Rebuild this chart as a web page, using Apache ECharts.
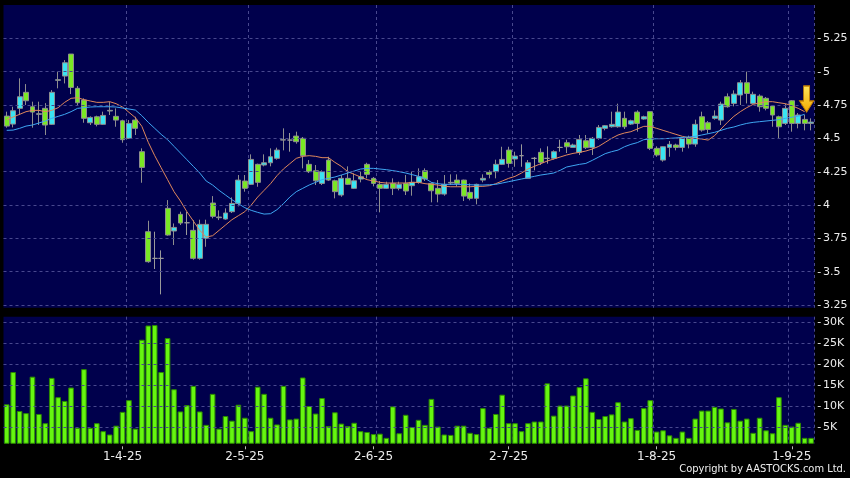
<!DOCTYPE html>
<html>
<head>
<meta charset="utf-8">
<script src="https://cdn.jsdelivr.net/npm/echarts@6.0.0/dist/echarts.min.js"></script>
<style>
html,body{margin:0;padding:0;background:#000;}
#chart{width:850px;height:478px;}
</style>
</head>
<body>
<div id="chart"></div>
<script>
// ---- data ----
// [open, close, low, high]
const ohlc = [
[4.667,4.592,4.58,4.70],[4.607,4.707,4.582,4.737],[4.725,4.812,4.675,4.95],[4.845,4.782,4.75,4.907],
[4.737,4.697,4.58,4.775],[4.68,4.685,4.60,4.775],[4.725,4.60,4.525,4.764],[4.605,4.845,4.60,4.862],
[4.935,4.94,4.875,5.0],[4.967,5.067,4.912,5.087],[5.132,4.882,4.832,5.132],[4.875,4.767,4.75,4.892],
[4.787,4.65,4.617,4.80],[4.617,4.657,4.60,4.665],[4.662,4.605,4.59,4.67],[4.605,4.672,4.60,4.70],
[4.705,4.71,4.675,4.775],[4.665,4.637,4.587,4.725],[4.632,4.49,4.467,4.64],[4.50,4.612,4.495,4.637],
[4.637,4.575,4.525,4.662],[4.40,4.282,4.167,4.425],[3.80,3.575,3.567,3.882],[3.60,3.60,3.52,3.80],
[3.60,3.60,3.33,3.66],[3.975,3.775,3.77,4.037],[3.805,3.832,3.70,3.862],[3.93,3.865,3.85,3.95],
[3.867,3.867,3.775,3.95],[3.81,3.60,3.59,3.887],[3.60,3.855,3.59,3.89],[3.75,3.855,3.687,3.89],
[4.015,3.915,3.90,4.067],[3.905,3.91,3.887,3.96],[3.895,3.94,3.89,3.975],[3.95,4.012,3.94,4.057],
[4.012,4.187,3.99,4.225],[4.18,4.125,4.10,4.225],[4.155,4.342,4.15,4.38],[4.305,4.17,4.137,4.31],
[4.30,4.317,4.29,4.38],[4.317,4.362,4.29,4.425],[4.35,4.412,4.34,4.43],[4.487,4.49,4.41,4.575],
[4.487,4.487,4.40,4.54],[4.517,4.475,4.46,4.55],[4.50,4.37,4.275,4.51],[4.305,4.25,4.24,4.337],
[4.257,4.182,4.15,4.30],[4.162,4.25,4.15,4.26],[4.337,4.187,4.18,4.362],[4.182,4.10,4.05,4.19],
[4.075,4.20,4.062,4.225],[4.20,4.155,4.15,4.29],[4.125,4.182,4.12,4.237],[4.195,4.212,4.17,4.25],
[4.305,4.23,4.20,4.317],[4.20,4.162,4.14,4.21],[4.155,4.125,3.945,4.18],[4.125,4.155,4.12,4.175],
[4.162,4.125,4.075,4.20],[4.125,4.155,4.11,4.175],[4.162,4.105,4.075,4.225],[4.145,4.17,4.07,4.25],
[4.17,4.212,4.16,4.275],[4.257,4.195,4.18,4.275],[4.162,4.107,4.02,4.17],[4.125,4.082,4.02,4.187],
[4.082,4.155,4.07,4.225],[4.165,4.17,4.15,4.23],[4.187,4.162,4.14,4.23],[4.187,4.067,4.03,4.19],
[4.095,4.05,4.035,4.162],[4.05,4.155,4.005,4.16],[4.187,4.20,4.17,4.23],[4.245,4.23,4.20,4.26],
[4.25,4.305,4.20,4.34],[4.305,4.342,4.30,4.437],[4.412,4.312,4.28,4.437],[4.345,4.367,4.287,4.40],
[4.37,4.37,4.287,4.455],[4.20,4.317,4.20,4.337],[4.35,4.35,4.26,4.36],[4.395,4.32,4.30,4.425],
[4.35,4.35,4.31,4.44],[4.35,4.40,4.34,4.41],[4.432,4.432,4.40,4.49],[4.467,4.437,4.39,4.49],
[4.432,4.45,4.43,4.46],[4.395,4.492,4.375,4.525],[4.482,4.43,4.42,4.525],[4.432,4.50,4.375,4.51],
[4.50,4.582,4.49,4.60],[4.575,4.595,4.56,4.60],[4.587,4.605,4.58,4.70],[4.587,4.697,4.58,4.76],
[4.65,4.587,4.57,4.70],[4.607,4.632,4.60,4.64],[4.697,4.612,4.55,4.71],[4.645,4.662,4.64,4.67],
[4.70,4.425,4.412,4.70],[4.425,4.375,4.362,4.44],[4.337,4.437,4.325,4.44],[4.432,4.455,4.362,4.48],
[4.45,4.432,4.41,4.46],[4.432,4.50,4.40,4.51],[4.505,4.457,4.425,4.52],[4.457,4.605,4.437,4.64],
[4.662,4.562,4.55,4.70],[4.617,4.567,4.537,4.63],[4.65,4.667,4.64,4.71],[4.637,4.757,4.60,4.775],
[4.812,4.737,4.73,4.837],[4.762,4.832,4.74,4.86],[4.825,4.917,4.75,4.937],[4.917,4.837,4.762,5.0],
[4.762,4.83,4.76,4.85],[4.817,4.737,4.70,4.83],[4.80,4.725,4.71,4.81],[4.742,4.675,4.587,4.75],
[4.662,4.587,4.50,4.67],[4.612,4.725,4.60,4.76],[4.782,4.612,4.55,4.787],[4.612,4.675,4.575,4.69],
[4.642,4.612,4.56,4.675],[4.612,4.622,4.56,4.65]
];

// volume, thousands of shares
const volumeK = [
10.4,18.1,8.8,8.3,17.0,8.1,5.9,16.7,12.1,11.2,
14.4,4.8,18.8,4.8,5.9,4.0,3.2,5.3,8.6,11.4,
4.6,25.8,29.2,29.3,18.1,26.2,14.0,8.7,10.2,14.8,
8.7,5.5,12.9,4.6,7.6,6.5,10.3,7.2,4.0,14.6,
12.9,7.2,5.6,14.8,6.8,7.0,16.8,10.0,8.2,11.9,
5.2,8.5,5.8,5.2,6.0,4.0,3.8,3.3,3.4,2.4,
9.9,3.5,7.9,5.0,6.7,5.5,11.7,5.1,3.2,3.1,
5.3,5.3,3.6,3.3,9.5,4.8,8.1,12.7,5.9,5.9,
4.0,5.9,6.3,6.3,15.4,7.7,10.1,10.1,12.5,14.5,
16.6,8.6,6.9,7.6,8.0,10.9,6.3,7.1,4.3,9.5,
11.4,3.9,4.2,3.0,2.4,3.9,2.4,7.0,8.9,8.9,
9.8,9.4,6.1,9.3,6.5,7.0,3.6,7.2,4.2,3.5,
12.1,5.5,5.1,6.0,2.4,2.4
];

// short moving average (orange)
const maShort = [
4.64,4.66,4.68,4.70,4.71,4.71,4.70,4.71,4.73,4.77,
4.80,4.805,4.79,4.78,4.77,4.77,4.775,4.76,4.735,4.695,
4.655,4.59,4.47,4.37,4.28,4.19,4.10,4.03,3.95,3.88,
3.81,3.76,3.77,3.81,3.85,3.89,3.92,3.95,4.00,4.06,
4.11,4.16,4.22,4.27,4.31,4.35,4.365,4.37,4.365,4.355,
4.355,4.32,4.29,4.25,4.23,4.21,4.19,4.18,4.17,4.165,
4.165,4.165,4.165,4.17,4.17,4.16,4.155,4.15,4.14,4.137,
4.137,4.137,4.137,4.14,4.14,4.145,4.16,4.18,4.20,4.215,
4.24,4.27,4.29,4.31,4.33,4.345,4.36,4.375,4.387,4.395,
4.405,4.42,4.44,4.47,4.50,4.525,4.54,4.55,4.57,4.59,
4.59,4.575,4.56,4.545,4.53,4.515,4.505,4.50,4.495,4.487,
4.52,4.57,4.62,4.665,4.70,4.73,4.755,4.765,4.775,4.775,
4.767,4.76,4.745,4.725,4.70
];

// long moving average (blue)
const maLong = [
4.56,4.562,4.575,4.592,4.60,4.615,4.63,4.65,4.665,4.68,
4.70,4.725,4.73,4.735,4.737,4.737,4.737,4.735,4.727,4.72,
4.712,4.67,4.62,4.575,4.53,4.49,4.44,4.39,4.34,4.29,
4.24,4.18,4.15,4.11,4.075,4.04,4.01,3.98,3.96,3.945,
3.932,3.935,3.965,4.01,4.06,4.10,4.125,4.15,4.17,4.19,
4.20,4.21,4.225,4.24,4.255,4.27,4.275,4.275,4.27,4.265,
4.258,4.25,4.24,4.228,4.215,4.20,4.17,4.16,4.155,4.155,
4.155,4.155,4.152,4.15,4.15,4.152,4.155,4.165,4.175,4.185,
4.195,4.205,4.215,4.225,4.232,4.24,4.26,4.285,4.295,4.305,
4.312,4.335,4.36,4.385,4.40,4.412,4.437,4.455,4.468,4.49,
4.495,4.497,4.497,4.50,4.503,4.507,4.51,4.515,4.525,4.535,
4.545,4.56,4.575,4.585,4.60,4.612,4.62,4.625,4.63,4.635,
4.64,4.65,4.658,4.667,4.68
];

// x-axis tick labels and the bar each one sits on
const xTickIndex  = [18, 37, 57, 78, 101, 122];
const xTickLabels = ['1-4-25', '2-5-25', '2-6-25', '2-7-25', '1-8-25', '1-9-25'];
const xGridIndex  = [19, 38, 58, 79, 101, 122];

// y-axis tick labels
const priceTicks  = [3.25, 3.5, 3.75, 4, 4.25, 4.5, 4.75, 5, 5.25];
const volumeTicks = [5, 10, 15, 20, 25, 30];

// arrow marker (bar index, price at its centre)
const arrowMark = { index: 124, price: 4.795 };

// ---- chart ----
const xCats = ohlc.map((_, i) => String(i));
const NAVY = '#00004c';
const GRIDC = '#48488e';
const LBL = '#ececec';
const DASH = [3, 3];

const near = (arr, v) => arr.some(t => Math.abs(t - v) < 1e-6);
const priceLabel = v => near(priceTicks, v) ? '-\u2006' + (+v.toFixed(2)) : '';
const volLabel = v => near(volumeTicks, v) ? '-\u2006' + Math.round(v) + 'K' : '';

const chart = echarts.init(document.getElementById('chart'), null, { renderer: 'canvas' });

const gridLineMark = vals => ({
  silent: true,
  symbol: ['none', 'none'],
  label: { show: false },
  emphasis: { disabled: true },
  lineStyle: { color: GRIDC, type: DASH, width: 1 },
  data: vals.map(v => ({ yAxis: v }))
});

const option = {
  animation: false,
  backgroundColor: '#000000',
  textStyle: { fontFamily: 'DejaVu Sans' },
  grid: [
    { left: 3.5, right: 35.7, top: 5, height: 302.7, show: true, backgroundColor: NAVY, borderWidth: 0, containLabel: false, outerBoundsMode: 'none' },
    { left: 3.5, right: 35.7, top: 316.7, height: 126.6, show: true, backgroundColor: NAVY, borderWidth: 0, containLabel: false, outerBoundsMode: 'none' }
  ],
  xAxis: [
    {
      type: 'category', gridIndex: 0, data: xCats, boundaryGap: true,
      axisLine: { show: false }, axisTick: { show: false }, axisLabel: { show: false },
      splitLine: { show: true, interval: i => xGridIndex.includes(i), lineStyle: { color: GRIDC, type: DASH, width: 1 } }
    },
    {
      type: 'category', gridIndex: 1, data: xCats, boundaryGap: true, offset: 3,
      axisLine: { show: false },
      axisTick: { show: true, alignWithLabel: true, length: 3, interval: i => xTickIndex.includes(i), lineStyle: { color: '#bbbbbb' } },
      axisLabel: {
        show: true, interval: i => xTickIndex.includes(i),
        formatter: (v, i) => { const k = xTickIndex.indexOf(i); return k >= 0 ? xTickLabels[k] : ''; },
        color: LBL, fontSize: 12, fontFamily: 'DejaVu Sans', margin: 5
      },
      splitLine: { show: true, interval: i => xGridIndex.includes(i), lineStyle: { color: GRIDC, type: DASH, width: 1 } }
    }
  ],
  yAxis: [
    {
      type: 'value', gridIndex: 0, position: 'right', min: 3.23, max: 5.5, interval: 0.01,
      axisLine: { show: false }, axisTick: { show: false }, splitLine: { show: false },
      axisLabel: { formatter: priceLabel, color: LBL, fontSize: 11, fontFamily: 'DejaVu Sans', margin: 3 }
    },
    {
      type: 'value', gridIndex: 1, position: 'right', min: 1.1, max: 31.3, interval: 0.1,
      axisLine: { show: false }, axisTick: { show: false }, splitLine: { show: false },
      axisLabel: { formatter: volLabel, color: LBL, fontSize: 11, fontFamily: 'DejaVu Sans', margin: 3 }
    }
  ],
  series: [
    {
      name: 'priceGrid', type: 'line', xAxisIndex: 0, yAxisIndex: 0, z: 1,
      data: [], silent: true, markLine: gridLineMark(priceTicks)
    },
    {
      name: 'volGrid', type: 'line', xAxisIndex: 1, yAxisIndex: 1, z: 1,
      data: [], silent: true, markLine: gridLineMark(volumeTicks)
    },
    {
      name: 'Price', type: 'candlestick', xAxisIndex: 0, yAxisIndex: 0, z: 3,
      data: ohlc, barWidth: 5.4,
      itemStyle: {
        color: '#3ae4f2', color0: '#7ae824',
        borderColor: '#8e8e8e', borderColor0: '#8e8e8e', borderColorDoji: '#9a9a9a', borderWidth: 1
      },
      markPoint: {
        silent: true,
        label: { show: false },
        data: [{
          coord: [String(arrowMark.index), arrowMark.price],
          symbol: 'path://M4,0 L10,0 L10,15 L14,15 L7,26 L0,15 L4,15 Z',
          symbolSize: [14, 26],
          symbolOffset: [2, 0],
          itemStyle: {
            color: new echarts.graphic.LinearGradient(0, 0, 0, 1, [
              { offset: 0, color: '#ffe55a' }, { offset: 1, color: '#f2a800' }
            ]),
            borderColor: '#c98200', borderWidth: 1
          }
        }]
      }
    },
    {
      name: 'MA short', type: 'line', xAxisIndex: 0, yAxisIndex: 0, z: 4,
      data: maShort, showSymbol: false, smooth: false,
      lineStyle: { color: '#e0885c', width: 1 }
    },
    {
      name: 'MA long', type: 'line', xAxisIndex: 0, yAxisIndex: 0, z: 4,
      data: maLong, showSymbol: false, smooth: false,
      lineStyle: { color: '#3ea6f2', width: 1 }
    },
    {
      name: 'Volume', type: 'bar', xAxisIndex: 1, yAxisIndex: 1, z: 3,
      data: volumeK, barWidth: 5.6,
      itemStyle: { color: '#66f610', borderColor: '#2c8a00', borderWidth: 1 }
    }
  ],
  graphic: [{
    type: 'text', right: 4, top: 464,
    style: { text: 'Copyright by AASTOCKS.com Ltd.', fill: '#f0f0f0', font: '11px "DejaVu Sans Condensed", "Liberation Sans", sans-serif' }
  }]
};

chart.setOption(option);
</script>
</body>
</html>
